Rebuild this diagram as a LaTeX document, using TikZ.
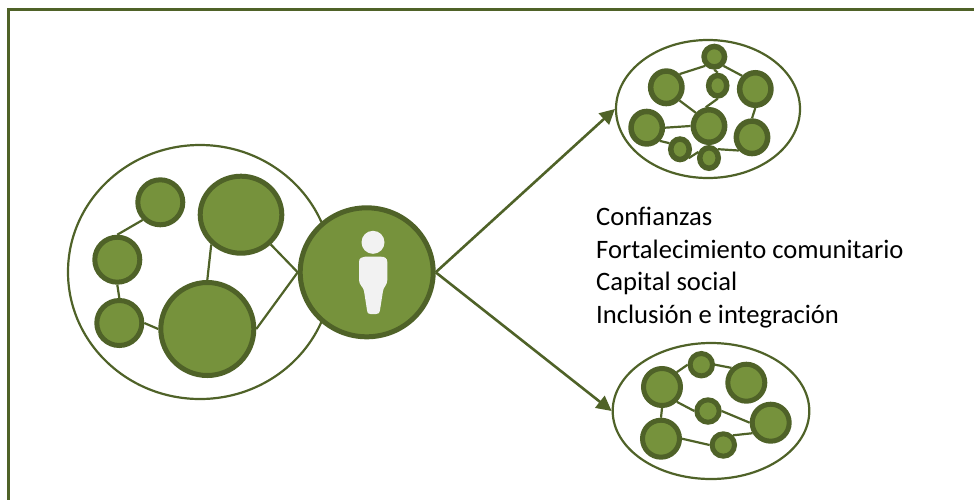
\documentclass[tikz,border=0pt]{standalone}
\usepackage{fontspec}
\setmainfont{Carlito}
\usetikzlibrary{shapes.geometric,arrows.meta}
\definecolor{leaf}{HTML}{76923C}
\definecolor{bark}{HTML}{4F6228}
\definecolor{pale}{HTML}{F2F2F2}
\tikzset{
  px/.style={x=1pt,y=-1pt},
  blob/.style n args={2}{ellipse,draw=bark,fill=leaf,line width=5pt,inner sep=0pt,minimum width=#1*2pt-5pt,minimum height=#2*2pt-5pt},
  tblob/.style n args={2}{ellipse,draw=bark,fill=leaf,line width=5.5pt,inner sep=0pt,minimum width=#1*2pt-5.5pt,minimum height=#2*2pt-5.5pt},
  group/.style n args={2}{ellipse,draw=bark,line width=2.2pt,inner sep=0pt,minimum width=#1*2pt,minimum height=#2*2pt},
  link/.style={draw=bark,line width=2.2pt},
  reach/.style={draw=bark,line width=2.6pt,-{Triangle[length=15pt,width=15pt]}},
  lbl/.style={anchor=base west,inner sep=0pt,font=\fontsize{26.6}{26.6}\selectfont,text=black},
}
\begin{document}
\begin{tikzpicture}[px]
\useasboundingbox (0,0) rectangle (974,499);
\draw[bark,line width=3pt] (8.7,500) -- (8.7,9.7) -- (975,9.7);
% left group
\node[group={132}{127}] (g0) at (200,272) {};
\node[blob={25}{25}] (a1) at (160.3,202.3) {};
\node[blob={43.3}{41}] (a2) at (241,214.7) {};
\node[blob={25}{25}] (a3) at (117.3,259.7) {};
\node[blob={25}{25}] (a4) at (119.3,323) {};
\node[blob={49}{49}] (a5) at (207.3,329) {};
\node[blob={69}{67}] (hub) at (366.7,272.3) {};
\draw[link] (a1.-135) -- (a3.90);
\draw[link] (a3.-90) -- (a4.90);
\draw[link] (a4.0) -- (a5.180);
\draw[link] (a5.90) -- (a2.-135);
\draw[link] (a2.-45) -- (hub.180);
\draw[link] (a5.0) -- (hub.180);
% person
\node[circle,fill=pale,inner sep=0pt,minimum size=23pt] (head) at (373,242.3) {};
\fill[pale] (359,262) .. controls (359,258) and (362,256.7) .. (365,256.7)
  -- (381,256.7) .. controls (384.5,256.7) and (387.3,258) .. (387.3,262)
  -- (387.3,280) .. controls (387.3,285) and (383.5,287) .. (383,291)
  -- (380,310) .. controls (379.5,313.5) and (378,314) .. (376,314)
  -- (370.5,314) .. controls (368.5,314) and (367.5,313.5) .. (367,310)
  -- (364,291) .. controls (363.5,287) and (359,285) .. (359,280) -- cycle;
% top group
\node[group={92}{69}] (g1) at (708,109) {};
\node[tblob={13}{13}] (b1) at (714.3,56.7) {};
\node[tblob={11.8}{13}] (b2) at (717.7,85.7) {};
\node[tblob={18.4}{19}] (b3) at (666.3,87.3) {};
\node[tblob={18.4}{19}] (b4) at (755.3,89) {};
\node[tblob={18.4}{19}] (b5) at (646.7,127.7) {};
\node[tblob={18.4}{19}] (b6) at (709,126) {};
\node[tblob={18.4}{19}] (b7) at (752,137.3) {};
\node[tblob={12}{13}] (b8) at (680,149.3) {};
\node[tblob={12}{13}] (b9) at (709,158) {};
\draw[link] (b3.45) -- (b1.-135);
\draw[link] (b1.-45) -- (b4.135);
\draw[link] (b1.-90) -- (b2.90);
\draw[link] (b2.-90) -- (b6.100);
\draw[link] (b3.-45) -- (b6.135);
\draw[link] (b6.180) -- (b5.0);
\draw[link] (b4.-90) -- (b7.90);
\draw[link] (b5.-45) -- (b8.150);
\draw[link] (b8.-45) -- (b9.150);
\draw[link] (b9.45) -- (b7.-135);
% bottom group
\node[group={98.3}{68}] (g2) at (711,411) {};
\node[blob={13.7}{13.7}] (c1) at (701.3,364.7) {};
\node[blob={21}{21}] (c2) at (662,387) {};
\node[blob={21}{21}] (c3) at (746.3,382.7) {};
\node[blob={13.7}{13.7}] (c4) at (708,411) {};
\node[blob={21}{21}] (c5) at (770.7,422.7) {};
\node[blob={21}{21}] (c6) at (661,438.7) {};
\node[blob={13.7}{13.7}] (c7) at (723.3,445) {};
\draw[link] (c2.45) -- (c1.180);
\draw[link] (c1.0) -- (c3.135);
\draw[link] (c2.-45) -- (c4.180);
\draw[link] (c2.-90) -- (c6.90);
\draw[link] (c4.0) -- (c5.180);
\draw[link] (c6.0) -- (c7.180);
\draw[link] (c7.45) -- (c5.-150);
% arrows
\draw[reach] (hub.0) -- (g1.180);
\draw[reach] (hub.0) -- (g2.180);
% text
\node[lbl] (t1) at (596,225) {Confianzas};
\node[lbl] (t2) at (596,258) {Fortalecimiento comunitario};
\node[lbl] (t3) at (596,290.5) {Capital social};
\node[lbl] (t4) at (596,323) {Inclusión e integración};
\end{tikzpicture}
\end{document}
